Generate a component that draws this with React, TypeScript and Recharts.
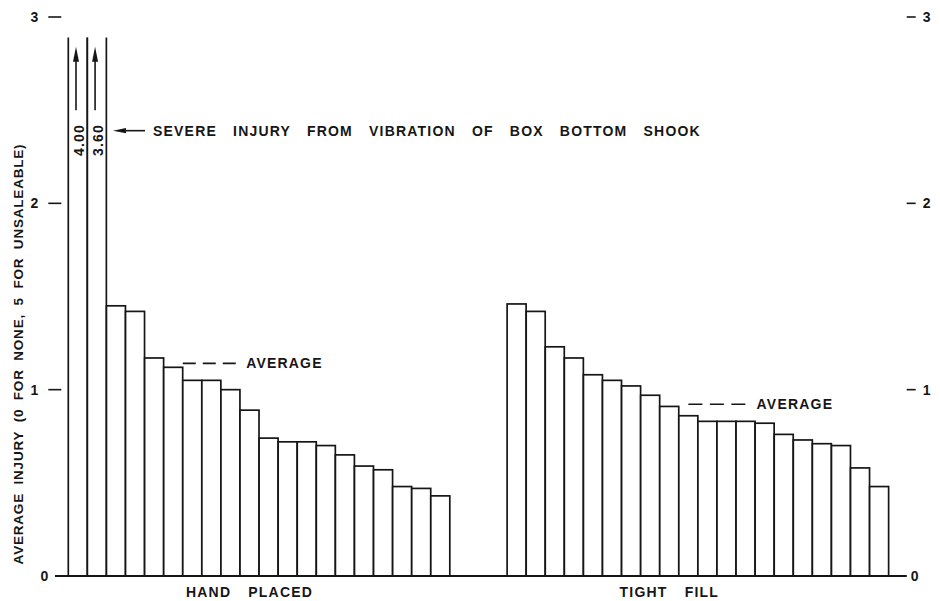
import { BarChart, Bar, XAxis, YAxis, ReferenceLine } from 'recharts'

// average injury per lot (0 = none, 5 = unsaleable)
const handPlaced = [4.0, 3.6, 1.45, 1.42, 1.17, 1.12, 1.05, 1.05, 1.0, 0.89, 0.74, 0.72, 0.72, 0.7, 0.65, 0.59, 0.57, 0.48, 0.47, 0.43]
const tightFill = [1.46, 1.42, 1.23, 1.17, 1.08, 1.05, 1.02, 0.97, 0.91, 0.86, 0.83, 0.83, 0.83, 0.82, 0.76, 0.73, 0.71, 0.7, 0.58, 0.48]
const gapSlots = 3
const yTicks = [0, 1, 2, 3]
const groupLabels: Record<string, string> = { H10: 'HAND PLACED', T9: 'TIGHT FILL' }

const rows = [
  ...handPlaced.map((v, i) => ({ slot: `H${i + 1}`, injury: v })),
  ...Array.from({ length: gapSlots }, (_, i) => ({ slot: `G${i + 1}`, injury: null as number | null })),
  ...tightFill.map((v, i) => ({ slot: `T${i + 1}`, injury: v })),
].map((r, i) => ({ ...r, pos: i + 0.5 }))
const totalSlots = rows.length

const mean = (a: number[]) => a.reduce((s, v) => s + v, 0) / a.length
const handAvg = mean(handPlaced)
const tightAvg = mean(tightFill)

const Y_MAX = 3
const OPEN_TOP = 2.89
const INK = '#161616'
const FONT = "'Liberation Sans', Arial, sans-serif"
const textStyle = { fontFamily: FONT, fontWeight: 700, fill: INK } as const

const BarShape = (props: any) => {
  const { x, y, width, height, payload } = props
  const v = payload?.injury
  if (v == null || !height) return null
  if (v <= Y_MAX) {
    return <rect x={x} y={y} width={width} height={height} fill="#fff" stroke={INK} strokeWidth={1.7} />
  }
  // off-scale bar: open top, arrow and the real value written inside
  const base = y + height
  const unit = height / v
  const top = base - OPEN_TOP * unit
  const cx = x + width / 2
  const ax = cx - 1.8
  const tip = base - 2.84 * unit
  const tail = base - 2.5 * unit
  const ly = base - 2.34 * unit
  return (
    <g>
      <rect x={x} y={top} width={width} height={base - top} fill="#fff" />
      <path d={`M${x},${base}V${top}M${x + width},${top}V${base}`} stroke={INK} strokeWidth={1.7} fill="none" />
      <line x1={ax} x2={ax} y1={tail} y2={tip + 10} stroke={INK} strokeWidth={1.6} />
      <polygon points={`${ax},${tip} ${ax - 3},${tip + 15} ${ax + 3},${tip + 15}`} fill={INK} />
      <text
        transform={`rotate(-90 ${cx + 1} ${ly})`}
        x={cx + 1}
        y={ly}
        textAnchor="middle"
        dominantBaseline="central"
        fontSize={14}
        letterSpacing={1.2}
        {...textStyle}
      >
        {v.toFixed(2)}
      </text>
    </g>
  )
}

const LeftTick = ({ x, y, payload }: any) => {
  const zero = payload.value === 0
  return (
    <g>
      <text x={zero ? x - 20 : x - 30} y={y} textAnchor="end" dominantBaseline="central" fontSize={14} {...textStyle}>
        {payload.value}
      </text>
      {!zero && <line x1={x - 20} x2={x - 7} y1={y} y2={y} stroke={INK} strokeWidth={1.6} />}
    </g>
  )
}

const RightTick = ({ x, y, payload }: any) => {
  const zero = payload.value === 0
  return (
    <g>
      <text x={zero ? x + 22 : x + 34} y={y} textAnchor="start" dominantBaseline="central" fontSize={14} {...textStyle}>
        {payload.value}
      </text>
      {!zero && <line x1={x + 18} x2={x + 27} y1={y} y2={y} stroke={INK} strokeWidth={1.6} />}
    </g>
  )
}

const GroupTick = ({ x, y, payload }: any) => (
  <text x={x} y={y + 16} textAnchor="middle" dominantBaseline="central" fontSize={14} letterSpacing={1.2} wordSpacing={12} {...textStyle}>
    {groupLabels[payload.value] ?? ''}
  </text>
)

const sideLabel = (text: string, gap: number) => ({ viewBox }: any) => (
  <text
    x={viewBox.x + viewBox.width + gap}
    y={viewBox.y + (viewBox.height || 0) / 2}
    dominantBaseline="central"
    fontSize={14}
    letterSpacing={1.2}
    wordSpacing={11}
    {...textStyle}
  >
    {text}
  </text>
)

const LeftArrow = (props: any) => {
  const { x1, y1, x2, y2 } = props
  const l = Math.min(x1, x2)
  const r = Math.max(x1, x2)
  return (
    <g>
      <line x1={l + 10} x2={r} y1={y1} y2={y2} stroke={INK} strokeWidth={1.6} />
      <polygon points={`${l},${y1} ${l + 13},${y1 - 2.6} ${l + 13},${y1 + 2.6}`} fill={INK} />
    </g>
  )
}

const YTitle = () => (
  <text
    transform="rotate(-90 18 354)"
    x={18}
    y={354}
    textAnchor="middle"
    dominantBaseline="central"
    fontSize={13.5}
    letterSpacing={0.8}
    wordSpacing={4}
    {...textStyle}
  >
    AVERAGE INJURY (0 FOR NONE, 5 FOR UNSALEABLE)
  </text>
)

export default function App() {
  return (
    <div style={{ position: 'absolute', left: 0, top: 0, width: 940, height: 601, background: '#fff' }}>
      <BarChart width={940} height={601} data={rows} barCategoryGap={0} margin={{ top: 17, right: 0, bottom: 0, left: 0 }}>
        <XAxis
          xAxisId="cat"
          dataKey="slot"
          ticks={['H10', 'T9']}
          interval={0}
          axisLine={false}
          tickLine={false}
          tickSize={0}
          tickMargin={0}
          height={25}
          tick={<GroupTick />}
        />
        <XAxis xAxisId="slot" dataKey="pos" type="number" domain={[0, totalSlots]} allowDataOverflow hide />
        <YAxis
          yAxisId="left"
          domain={[0, Y_MAX]}
          ticks={yTicks}
          allowDataOverflow
          width={68.3}
          axisLine={false}
          tickLine={false}
          tickSize={0}
          tickMargin={0}
          tick={<LeftTick />}
          label={{ content: <YTitle /> }}
        />
        <YAxis
          yAxisId="right"
          orientation="right"
          domain={[0, Y_MAX]}
          ticks={yTicks}
          allowDataOverflow
          width={51.3}
          axisLine={false}
          tickLine={false}
          tickSize={0}
          tickMargin={0}
          tick={<RightTick />}
        />
        <Bar xAxisId="cat" yAxisId="left" dataKey="injury" shape={<BarShape />} isAnimationActive={false} />
        <ReferenceLine
          xAxisId="slot"
          yAxisId="left"
          segment={[{ x: -0.7, y: 0 }, { x: totalSlots + 0.95, y: 0 }]}
          stroke={INK}
          strokeWidth={1.8}
          ifOverflow="visible"
        />
        <ReferenceLine
          xAxisId="slot"
          yAxisId="left"
          segment={[{ x: 6.0, y: handAvg }, { x: 8.85, y: handAvg }]}
          stroke={INK}
          strokeWidth={1.6}
          strokeDasharray="13 7"
          ifOverflow="visible"
          label={sideLabel('AVERAGE', 9)}
        />
        <ReferenceLine
          xAxisId="slot"
          yAxisId="left"
          segment={[{ x: 32.5, y: tightAvg }, { x: 35.5, y: tightAvg }]}
          stroke={INK}
          strokeWidth={1.6}
          strokeDasharray="14 7.5"
          ifOverflow="visible"
          label={sideLabel('AVERAGE', 11)}
        />
        <ReferenceLine
          xAxisId="slot"
          yAxisId="left"
          segment={[{ x: 2.34, y: 2.39 }, { x: 4.02, y: 2.39 }]}
          stroke={INK}
          ifOverflow="visible"
          shape={LeftArrow}
          label={sideLabel('SEVERE INJURY FROM VIBRATION OF BOX BOTTOM SHOOK', 8)}
        />
      </BarChart>
    </div>
  )
}
